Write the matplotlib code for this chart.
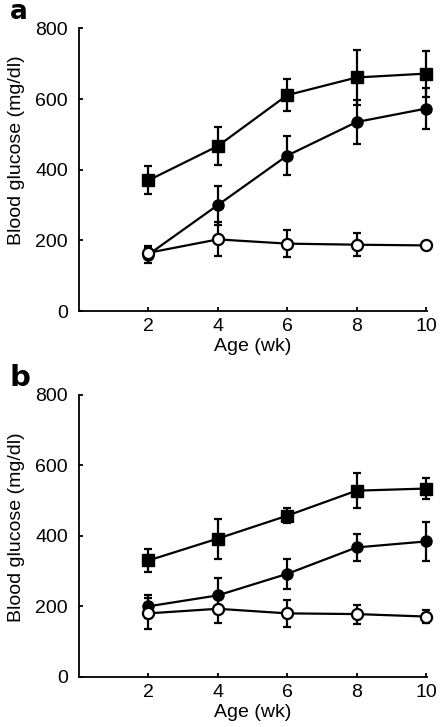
#
# plot.py
# -------
# Blood glucose vs. age, two panels (a, b).
#

import matplotlib
matplotlib.use("Agg")
import matplotlib.pyplot as plt

plt.rcParams['font.family'] = ['Liberation Sans', 'DejaVu Sans']

age = [2, 4, 6, 8, 10]
age_ticks = [2, 4, 6, 8, 10]
glucose_ticks = [0, 200, 400, 600, 800]

# Panel a
a_square = [370, 467, 611, 661, 672]
a_square_err = [40, 53, 46, 78, 65]
a_filled = [160, 300, 440, 535, 573]
a_filled_err = [25, 55, 55, 62, 58]
a_open = [165, 203, 191, 188, 186]
a_open_err = [15, 48, 38, 32, 8]

# Panel b
b_square = [330, 392, 457, 528, 534]
b_square_err = [33, 57, 22, 50, 31]
b_filled = [200, 231, 292, 367, 384]
b_filled_err = [32, 48, 43, 38, 55]
b_open = [180, 193, 180, 178, 171]
b_open_err = [45, 40, 39, 27, 18]


def draw_panel(ax, square, square_err, filled, filled_err, opn, opn_err, label_y):
    common = dict(color='black', ecolor='black', elinewidth=1.6, capsize=3,
                  capthick=1.6, lw=1.6, clip_on=False)
    ax.errorbar(age, square, yerr=square_err, marker='s', ms=9,
                mfc='black', mec='black', zorder=3, **common)
    ax.errorbar(age, filled, yerr=filled_err, marker='o', ms=8,
                mfc='black', mec='black', zorder=4, **common)
    ax.errorbar(age, opn, yerr=opn_err, marker='o', ms=8,
                mfc='white', mec='black', mew=1.6, zorder=5, **common)

    ax.set_xlim(0, 10.03)
    ax.set_ylim(0, 800)
    ax.set_xticks(age_ticks)
    ax.set_yticks(glucose_ticks)
    ax.spines['top'].set_visible(False)
    ax.spines['right'].set_visible(False)
    ax.spines['left'].set_linewidth(1.3)
    ax.spines['bottom'].set_linewidth(1.3)
    ax.tick_params(axis='y', direction='in', length=3, width=1.3,
                   labelsize=14, pad=8)
    ax.tick_params(axis='x', direction='in', length=3, width=1.3,
                   labelsize=14, pad=5)
    ax.set_xlabel("Age (wk)", fontsize=14, labelpad=2)
    ax.set_ylabel("Blood glucose (mg/dl)", fontsize=14)
    ax.yaxis.set_label_coords(-0.155, label_y)


fig = plt.figure(figsize=(4.45, 7.27), dpi=100)
ax_a = fig.add_axes([0.1775, 0.572, 0.782, 0.389])
ax_b = fig.add_axes([0.1775, 0.069, 0.782, 0.388])

draw_panel(ax_a, a_square, a_square_err, a_filled, a_filled_err, a_open, a_open_err, 0.57)
draw_panel(ax_b, b_square, b_square_err, b_filled, b_filled_err, b_open, b_open_err, 0.53)

fig.text(10 / 445, 1 - 19 / 727, "a", fontsize=19, fontweight='bold',
         family='DejaVu Sans', va='baseline', ha='left')
fig.text(10 / 445, 1 - 386 / 727, "b", fontsize=21, fontweight='bold',
         family='DejaVu Sans', va='baseline', ha='left')

fig.savefig("out.png", dpi=100)
